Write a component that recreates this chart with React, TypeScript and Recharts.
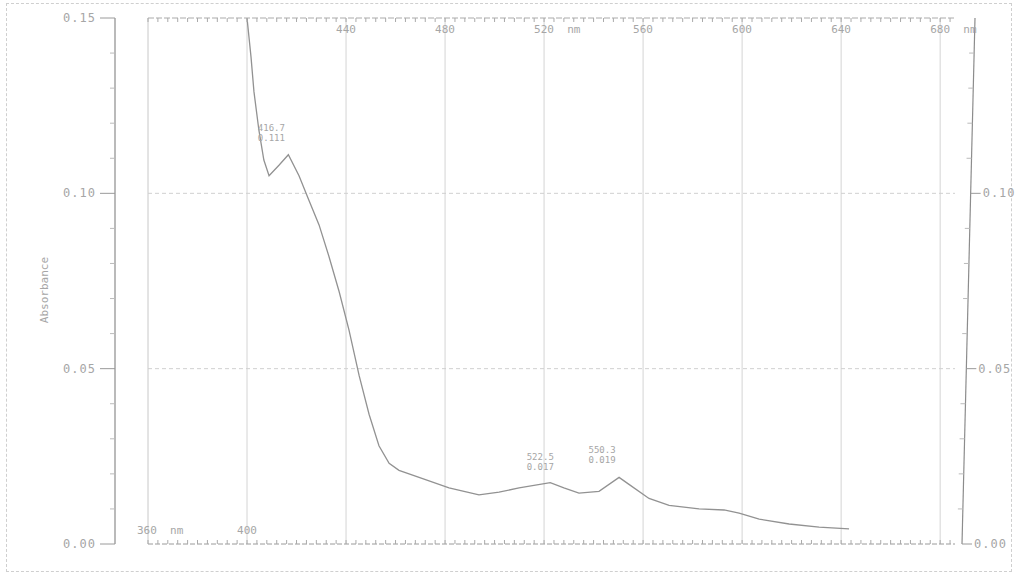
import { ComposedChart, Line, XAxis, YAxis, ReferenceLine, ReferenceDot } from 'recharts';

// wavelength (nm) and absorbance
const wavelengths = [
  400, 401.6, 402.8, 404.8, 406.8, 408.9, 412.9, 416.7, 421, 425, 429.1, 433.1, 437.2, 441.2,
  445.3, 449.3, 453.3, 457.4, 461.4, 469.5, 481.6, 493.7, 501.8, 509.9, 522.5, 528, 534.1,
  542.2, 550.3, 554.3, 562.4, 570.5, 582.6, 592.7, 598.8, 606.9, 619, 631.1, 643.2,
];
const absorbance = [
  0.15, 0.139, 0.129, 0.118, 0.1095, 0.105, 0.108, 0.111, 0.105, 0.098, 0.091, 0.082, 0.072, 0.061,
  0.048, 0.037, 0.028, 0.023, 0.021, 0.019, 0.016, 0.014, 0.0148, 0.016, 0.0175, 0.016, 0.0145,
  0.015, 0.019, 0.017, 0.013, 0.011, 0.01, 0.0097, 0.0088, 0.0071, 0.0057, 0.0048, 0.0043,
];
const peakNm = [416.7, 522.5, 550.3];
const peakAbs = [0.111, 0.017, 0.019];
const peakText = ['416.7', '522.5', '550.3'];
const peakAbsText = ['0.111', '0.017', '0.019'];

const topLabels = ['440', '480', '520 nm', '560', '600', '640', '680 nm'];
const topLabelNm = [440, 480, 520, 560, 600, 640, 680];
const gridNm = [400, 440, 480, 520, 560, 600, 640, 680];
const yLabels = ['0.00', '0.05', '0.10', '0.15'];
const yMajor = [0, 0.05, 0.1, 0.15];
const yTicks = [0, 0.01, 0.02, 0.03, 0.04, 0.05, 0.06, 0.07, 0.08, 0.09, 0.1, 0.11, 0.12, 0.13, 0.14, 0.15];

const data = wavelengths.map((nm, i) => ({ nm, a: absorbance[i] }));
const minorX: number[] = [];
for (let v = 360; v <= 684; v += 4) minorX.push(v);

const FONT = '"DejaVu Sans Mono", monospace';
const TXT = '#a6a6a6';
const TOP = 18;
const BOTTOM = 544;

const isMajor = (v: number) => yMajor.some((m) => Math.abs(m - v) < 1e-6);
const majorLabel = (v: number) => yLabels[yMajor.findIndex((m) => Math.abs(m - v) < 1e-6)];

// right axis is slightly tilted on the scan
const rightX = (y: number) => 975 - ((y - TOP) * 13) / (BOTTOM - TOP);

// draws the tick marks of both the left and the right value axis
const ValueTick = (props: any) => {
  const { y, payload } = props;
  const v = payload.value;
  const ax = 115;
  const rx = rightX(y);
  if (isMajor(v)) {
    return (
      <g>
        <line x1={100} x2={ax} y1={y} y2={y} stroke="#9a9a9a" />
        <text x={96} y={y + 4} textAnchor="end" fontFamily={FONT} fontSize={12} letterSpacing={1} fill={TXT}>
          {majorLabel(v)}
        </text>
        {v < 0.15 && (
          <g>
            <line x1={rx} x2={rx + 10} y1={y} y2={y} stroke="#9a9a9a" />
            <text x={rx + 12} y={y + 4} textAnchor="start" fontFamily={FONT} fontSize={12} letterSpacing={1} fill={TXT}>
              {majorLabel(v)}
            </text>
          </g>
        )}
      </g>
    );
  }
  return (
    <g>
      <line x1={ax - 5} x2={ax} y1={y} y2={y} stroke="#bbb" />
      <line x1={rx - 5} x2={rx} y1={y} y2={y} stroke="#bbb" />
    </g>
  );
};

const TopTick = (props: any) => {
  const { x, payload } = props;
  const v = payload.value;
  const idx = topLabelNm.indexOf(v);
  return (
    <g>
      <line x1={x} x2={x} y1={TOP} y2={TOP + 4} stroke="#aaa" />
      {idx >= 0 && (
        <text
          x={x - 10}
          y={TOP + 15}
          textAnchor="start"
          fontFamily={FONT}
          fontSize={11}
          fill={TXT}
          style={{ whiteSpace: 'pre' }}
        >
          {topLabels[idx].replace(' ', '  ')}
        </text>
      )}
    </g>
  );
};

const BottomTick = (props: any) => {
  const { x, payload } = props;
  const v = payload.value;
  return (
    <g>
      <line x1={x} x2={x} y1={BOTTOM} y2={BOTTOM - 4} stroke="#aaa" />
      {v === 360 && (
        <text x={137} y={BOTTOM - 10} fontFamily={FONT} fontSize={11} fill={TXT} style={{ whiteSpace: 'pre' }}>
          {'360  nm'}
        </text>
      )}
      {v === 400 && (
        <text x={x} y={BOTTOM - 10} textAnchor="middle" fontFamily={FONT} fontSize={11} fill={TXT}>
          400
        </text>
      )}
    </g>
  );
};

const PeakLabel = (i: number) => (props: any) => {
  const { viewBox } = props;
  const cx = viewBox.x + (i === 1 ? -10 : -17);
  const cy = viewBox.y;
  return (
    <g fontFamily={FONT} fontSize={9} fill={TXT}>
      <text x={cx} y={cy - 24} textAnchor="middle">{peakText[i]}</text>
      <text x={cx} y={cy - 14} textAnchor="middle">{peakAbsText[i]}</text>
    </g>
  );
};

export default function App() {
  return (
    <div style={{ position: 'absolute', left: 0, top: 0, width: 1015, height: 575, background: '#fff' }}>
      <div
        style={{
          position: 'absolute',
          left: 6,
          top: 3,
          width: 1006,
          height: 569,
          border: '1px dashed #cfcfcf',
          boxSizing: 'border-box',
        }}
      />
      <ComposedChart
        width={1015}
        height={575}
        data={data}
        margin={{ top: 0, right: 0, bottom: 0, left: 0 }}
        style={{ position: 'absolute', left: 0, top: 0 }}
      >
        <XAxis
          dataKey="nm"
          type="number"
          domain={[360, 686]}
          ticks={minorX}
          interval={0}
          tick={<BottomTick />}
          tickLine={false}
          axisLine={{ stroke: '#9a9a9a', strokeDasharray: '5 2' }}
          height={575 - BOTTOM}
        />
        <XAxis
          xAxisId="top"
          orientation="top"
          dataKey="nm"
          type="number"
          domain={[360, 686]}
          ticks={minorX}
          interval={0}
          tick={<TopTick />}
          tickLine={false}
          axisLine={{ stroke: '#aaa', strokeDasharray: '6 2' }}
          height={TOP}
        />
        <YAxis
          type="number"
          domain={[0, 0.15]}
          ticks={yTicks}
          interval={0}
          width={148}
          tick={<ValueTick />}
          tickLine={false}
          axisLine={{ stroke: '#8c8c8c', strokeWidth: 1.2, transform: 'translate(-33,0)' }}
          label={{
            content: () => (
              <text
                x={48}
                y={290}
                transform="rotate(-90 48 290)"
                textAnchor="middle"
                fontFamily={FONT}
                fontSize={11}
                fill={TXT}
              >
                Absorbance
              </text>
            ),
          }}
        />
        <YAxis
          yAxisId="right"
          orientation="right"
          type="number"
          domain={[0, 0.15]}
          width={60}
          tick={false}
          tickLine={false}
          axisLine={{
            stroke: '#8c8c8c',
            strokeWidth: 1.2,
            transform: `matrix(1,0,${-13 / (BOTTOM - TOP)},1,${20 + (13 * TOP) / (BOTTOM - TOP)},0)`,
          }}
        />
        <ReferenceLine x={360} stroke="#c8c8c8" />
        {gridNm.map((g) => (
          <ReferenceLine key={g} x={g} stroke="#d4d4d4" />
        ))}
        <ReferenceLine y={0.1} stroke="#d0d0d0" strokeDasharray="4 3" />
        <ReferenceLine y={0.05} stroke="#d0d0d0" strokeDasharray="4 3" />
        <Line
          dataKey="a"
          type="linear"
          stroke="#929292"
          strokeWidth={1.3}
          dot={false}
          isAnimationActive={false}
        />
        {peakNm.map((p, i) => (
          <ReferenceDot key={p} x={p} y={peakAbs[i]} r={0} stroke="none" label={{ content: PeakLabel(i) }} />
        ))}
      </ComposedChart>
    </div>
  );
}
